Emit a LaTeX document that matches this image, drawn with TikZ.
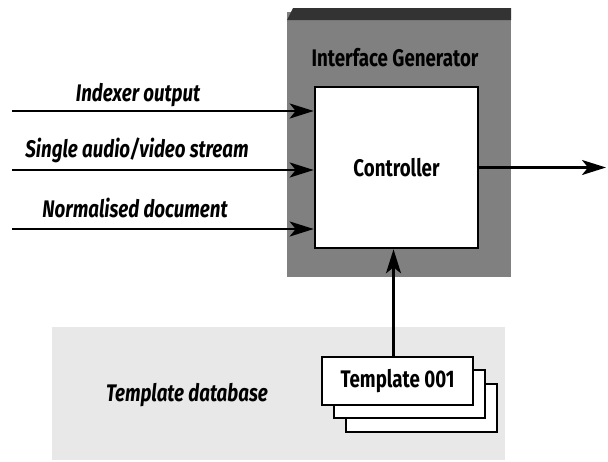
\documentclass[tikz,border=0pt]{standalone}
\usepackage{fontspec}
\setmainfont[FakeStretch=0.78]{Fira Sans}
\usetikzlibrary{arrows.meta}
\tikzset{
  arr/.style={-{Stealth[length=12pt,width=7.5pt,inset=3pt]}, line width=1.2pt},
  box/.style={draw, line width=1.3pt, fill=white, font=\fontsize{12}{14}\selectfont\bfseries},
  lbl/.style={font=\fontsize{12}{14}\selectfont\bfseries\itshape}
}
\begin{document}
\begin{tikzpicture}[x=0.5pt, y=-0.5pt]
        \useasboundingbox (0,0) rectangle (608,461);
        % Background areas
        \fill[black!9] (52,327) rectangle (505,460);
        \fill[black!50] (287,12) rectangle (511,277);
        \fill[black!80] (293,8) -- (511,8) -- (511,20) -- (287,20) -- cycle;
        
        % Generator
        \node[font=\fontsize{12}{14}\selectfont\bfseries] (gen) at (395,58) {Interface Generator};
        \node[box, minimum width=81.5pt, minimum height=80.5pt] (ctrl) at (396.5,167.5) {Controller};
        
        % Inputs
        \coordinate (in1) at (12,111);
        \coordinate (in2) at (12,170);
        \coordinate (in3) at (12,229);
        \draw[arr] (in1) -- (in1 -| ctrl.west);
        \draw[arr] (in2) -- (in2 -| ctrl.west);
        \draw[arr] (in3) -- (in3 -| ctrl.west);
        \node[lbl] (l1) at (138,95) {Indexer output};
        \node[lbl] (l2) at (137,150) {Single audio/video stream};
        \node[lbl] (l3) at (135,208) {Normalised document};
        
        % Output
        \coordinate (out) at (606,167.5);
        \draw[arr] (ctrl.east) -- (out);
        
        % Templates
        \node[box, minimum width=75.5pt, minimum height=24pt] (tpl3) at (421.5,408) {};
        \node[box, minimum width=75.5pt, minimum height=24pt] (tpl2) at (409.5,394) {};
        \node[box, minimum width=75.5pt, minimum height=24pt] (tpl1) at (397.5,381) {Template 001};
        \node[lbl] (db) at (187,395) {Template database};
        \draw[arr] ([xshift=-2pt]tpl1.north) -- ([xshift=-2pt]tpl1.north |- ctrl.south);
        
    \end{tikzpicture}
\end{document}
